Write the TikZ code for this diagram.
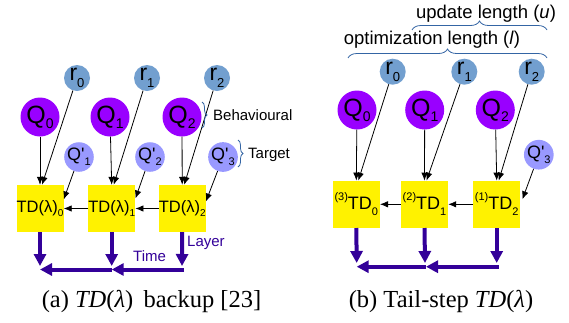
\documentclass[tikz,border=0pt]{standalone}
\usepackage{fontspec}
\setmainfont{Liberation Serif}
\newfontfamily\lab{Liberation Sans}
\usetikzlibrary{arrows.meta,decorations.pathreplacing,calc}
\definecolor{rblue}{RGB}{114,159,207}
\definecolor{qpurple}{RGB}{153,0,255}
\definecolor{qlight}{RGB}{153,153,255}
\definecolor{indig}{RGB}{51,0,153}
\definecolor{brc}{RGB}{52,101,164}
\newcommand{\fs}[1]{\fontsize{#1pt}{#1pt}\selectfont}
\newcommand{\lsb}[3]{\raisebox{#3}{\fs{#1}#2}}
\newcommand{\apo}{\textquotesingle}
\begin{document}
\begin{tikzpicture}[x=1pt,y=-1pt,
  rc/.style={circle,fill=rblue,minimum size=26pt,inner sep=0pt,font=\lab\fs{23}},
  qc/.style={circle,fill=qpurple,minimum size=39pt,inner sep=0pt,font=\lab\fs{25}},
  qp/.style={circle,fill=qlight,minimum size=29pt,inner sep=0pt,font=\lab\fs{18}},
  tdbox/.style={fill=yellow,minimum width=47pt,minimum height=47pt,inner sep=0pt,font=\lab\fs{16.5}},
  tdboxb/.style={tdbox,font=\lab\fs{18}},
  thinarr/.style={-{Latex[length=8pt,width=6.5pt]},line width=0.8pt},
  thickarr/.style={indig,line width=4pt,-{Triangle[length=12pt,width=12pt]}},
  bracel/.style={brc,line width=0.8pt,decorate,decoration={brace,amplitude=#1}},
  lbl/.style={font=\lab\fs{15},inner sep=0pt,anchor=base west},
]
\useasboundingbox (0,0) rectangle (569,322);

% ---------- left panel ----------
\node[rc] (rA0) at (77,78) {r\lsb{13}{0}{-.3em}};
\node[rc] (rA1) at (147,78) {r\lsb{13}{1}{-.3em}};
\node[rc] (rA2) at (217,78) {r\lsb{13}{2}{-.3em}};
\node[qc] (QA0) at (40,117) {Q\lsb{14}{0}{-.2em}};
\node[qc] (QA1) at (110,117) {Q\lsb{14}{1}{-.2em}};
\node[qc] (QA2) at (182,117) {Q\lsb{14}{2}{-.2em}};
\node[qp] (PA1) at (79,157) {Q\apo\lsb{11}{1}{-.3em}};
\node[qp] (PA2) at (150,157) {Q\apo\lsb{11}{2}{-.3em}};
\node[qp] (PA3) at (223,157) {Q\apo\lsb{11}{3}{-.3em}};
\node[tdbox] (tdA0) at (40,208.5) {TD(λ)\lsb{10}{0}{-.2em}};
\node[tdbox] (tdA1) at (111.7,208.5) {TD(λ)\lsb{10}{1}{-.2em}};
\node[tdbox] (tdA2) at (182.2,208.5) {TD(λ)\lsb{10}{2}{-.2em}};

\coordinate (eA0) at ($(tdA0.east)+(0,-9)$);
\coordinate (eA1) at ($(tdA1.east)+(0,-10)$);
\coordinate (eA2) at ($(tdA2.east)+(0,-7)$);
\foreach \i in {0,1,2}{
  \draw[thinarr] (QA\i) -- (tdA\i.north);
  \draw[thinarr] (rA\i) -- ($(tdA\i.north)+(2,0)$);
}
\draw[thinarr] (PA1) -- (eA0);
\draw[thinarr] (PA2) -- (eA1);
\draw[thinarr] (PA3) -- (eA2);
\draw[thinarr] (tdA1.west) -- (tdA0.east);
\draw[thinarr] (tdA2.west) -- (tdA1.east);

\coordinate (vA0) at (40,266);
\coordinate (vA1) at (111.7,266);
\coordinate (vA2) at (182,266);
\coordinate (hA0) at (40,269.5);
\coordinate (hA1) at (111.7,269.5);
\coordinate (hA2) at (184,269.5);
\draw[thickarr] (tdA0.south) -- (vA0);
\draw[thickarr] (tdA1.south) -- (vA1);
\draw[thickarr] (tdA2.south) -- (vA2);
\draw[thickarr] (hA2) -- (hA1);
\draw[thickarr] (hA1) -- (hA0);

\node[lbl,text=indig] (layer) at (187,246.5) {Layer};
\node[lbl,text=indig] (time) at (133,261.5) {Time};

\coordinate (bb1) at (202,102);
\coordinate (bb2) at (202,128);
\draw[bracel=5pt] (bb1) -- (bb2);
\node[lbl] (behav) at (213,120) {Behavioural};
\coordinate (tb1) at (238,140);
\coordinate (tb2) at (238,167);
\draw[bracel=5pt] (tb1) -- (tb2);
\node[lbl] (targ) at (248,158.3) {Target};

% ---------- right panel ----------
\node[rc] (rB0) at (392.7,71.7) {r\lsb{13}{0}{-.3em}};
\node[rc] (rB1) at (464.3,71.7) {r\lsb{13}{1}{-.3em}};
\node[rc] (rB2) at (531.7,71.7) {r\lsb{13}{2}{-.3em}};
\node[qc] (QB0) at (357,110) {Q\lsb{14}{0}{-.2em}};
\node[qc] (QB1) at (424.7,110) {Q\lsb{14}{1}{-.2em}};
\node[qc] (QB2) at (495.3,110) {Q\lsb{14}{2}{-.2em}};
\node[qp] (PB3) at (538.8,154.7) {Q\apo\lsb{11}{3}{-.3em}};
\node[tdboxb] (tdB0) at (356.3,204.3) {\lsb{11}{(3)}{.5em}TD\lsb{11}{0}{-.35em}};
\node[tdboxb] (tdB1) at (424.5,204.3) {\lsb{11}{(2)}{.5em}TD\lsb{11}{1}{-.35em}};
\node[tdboxb] (tdB2) at (496.7,204.3) {\lsb{11}{(1)}{.5em}TD\lsb{11}{2}{-.35em}};

\coordinate (eB2) at ($(tdB2.east)+(2,-5)$);
\foreach \i in {0,1,2}{
  \draw[thinarr] (QB\i) -- (tdB\i.north);
  \draw[thinarr] (rB\i) -- ($(tdB\i.north)+(2,0)$);
}
\draw[thinarr] (PB3) -- (eB2);
\draw[thinarr] (tdB1.west) -- (tdB0.east);
\draw[thinarr] (tdB2.west) -- (tdB1.east);

\coordinate (vB0) at (356.7,263);
\coordinate (vB1) at (425,263);
\coordinate (vB2) at (496.7,263);
\coordinate (hB0) at (356.7,266.7);
\coordinate (hB1) at (426,266.7);
\coordinate (hB2) at (498.7,266.7);
\draw[thickarr] (tdB0.south) -- (vB0);
\draw[thickarr] (tdB1.south) -- (vB1);
\draw[thickarr] (tdB2.south) -- (vB2);
\draw[thickarr] (hB2) -- (hB1);
\draw[thickarr] (hB1) -- (hB0);

\coordinate (ub1) at (412,30);
\coordinate (ub2) at (547,30);
\draw[bracel=9pt] (ub1) -- (ub2);
\node[font=\lab\fs{18.5},inner sep=0pt,anchor=base] (upd) at (486,18.5) {update length (\textit{u})};
\coordinate (ob1) at (348,58);
\coordinate (ob2) at (547,58);
\draw[bracel=9pt] (ob1) -- (ob2);
\node[font=\lab\fs{18.5},inner sep=0pt,anchor=base] (opt) at (432,44.3) {optimization length (\textit{l})};

% ---------- captions ----------
\node[font=\fs{24.5},inner sep=0pt,anchor=base] (capA) at (151.5,307.5) {(a) \textit{TD}(\textit{λ})\, backup [23]};
\node[font=\fs{24.5},inner sep=0pt,anchor=base] (capB) at (441,307.5) {(b) Tail-step \textit{TD}(\textit{λ})};
\end{tikzpicture}
\end{document}
